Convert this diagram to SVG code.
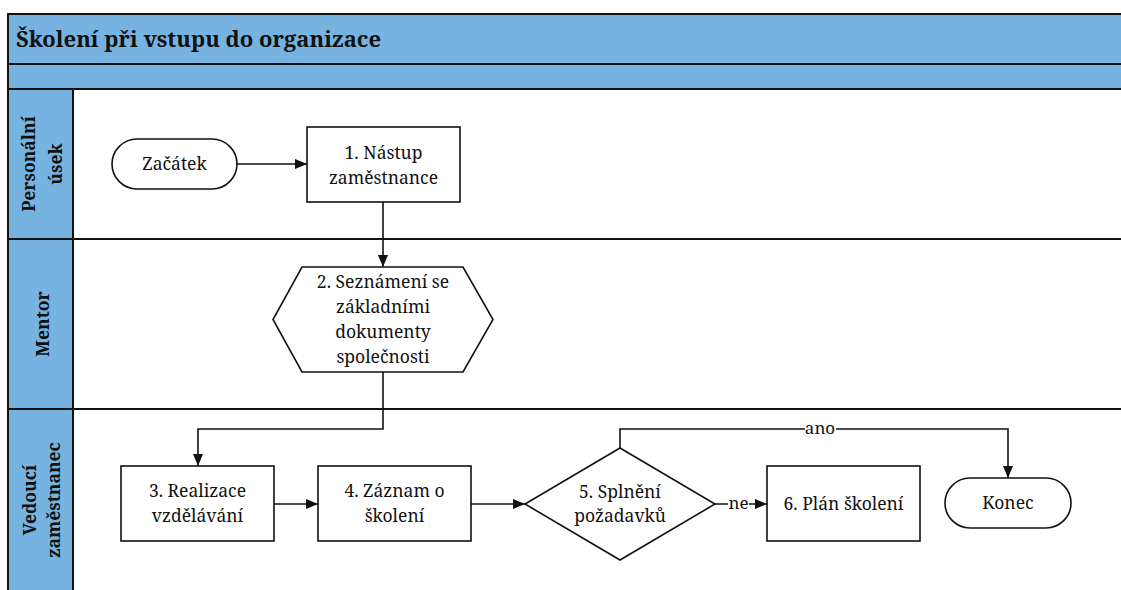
<svg xmlns="http://www.w3.org/2000/svg" width="1121" height="590" viewBox="0 0 1121 590">
<style>
.band{fill:#76B3E1;stroke:#111;stroke-width:2}
.lane{fill:#fff;stroke:#111;stroke-width:2}
.shape{fill:#fff;stroke:#111;stroke-width:1.6}
.conn{fill:none;stroke:#111;stroke-width:1.6}
text{font-family:"Noto Serif","Liberation Serif","DejaVu Serif",serif;fill:#111}
.t{font-size:17.5px;text-anchor:middle}
.lbl{font-size:17px;text-anchor:middle}
.lh{font-size:17.5px;font-weight:bold;text-anchor:middle}
.title{font-size:22px;font-weight:bold}
</style>
<defs>
<marker id="arr" markerWidth="12" markerHeight="10" refX="12" refY="5" orient="auto" markerUnits="userSpaceOnUse">
<path d="M0,0 L12,5 L0,10 Z" fill="#111"/>
</marker>
</defs>
<rect width="1121" height="590" fill="#fff"/>
<g id="pool">
<rect class="band" x="8" y="14" width="1120" height="50"/>
<text class="title" x="16" y="47">Školení při vstupu do organizace</text>
<rect class="band" x="8" y="64" width="1120" height="25"/>
</g>
<g id="lane-personalni">
<rect class="lane" x="73" y="89" width="1055" height="150"/>
<rect class="band" x="8" y="89" width="65" height="150"/>
<text class="lh" transform="translate(35,164) rotate(-90)">Personální</text>
<text class="lh" transform="translate(62,164) rotate(-90)">úsek</text>
</g>
<g id="lane-mentor">
<rect class="lane" x="73" y="239" width="1055" height="170"/>
<rect class="band" x="8" y="239" width="65" height="170"/>
<text class="lh" transform="translate(49,324) rotate(-90)">Mentor</text>
</g>
<g id="lane-vedouci">
<rect class="lane" x="73" y="409" width="1055" height="190"/>
<rect class="band" x="8" y="409" width="65" height="190"/>
<text class="lh" transform="translate(36,500) rotate(-90)">Vedoucí</text>
<text class="lh" transform="translate(60,500) rotate(-90)">zaměstnanec</text>
</g>
<g id="connectors">
<line class="conn" x1="237" y1="164" x2="307" y2="164" marker-end="url(#arr)"/>
<line class="conn" x1="383" y1="202" x2="383" y2="267" marker-end="url(#arr)"/>
<polyline class="conn" points="383,372 383,429 198,429 198,466" marker-end="url(#arr)"/>
<line class="conn" x1="274" y1="504" x2="318" y2="504" marker-end="url(#arr)"/>
<line class="conn" x1="471" y1="504" x2="525" y2="504" marker-end="url(#arr)"/>
<line class="conn" x1="715" y1="504" x2="767" y2="504" marker-end="url(#arr)"/>
<polyline class="conn" points="620,448 620,429 1008,429 1008,478" marker-end="url(#arr)"/>
<rect x="805" y="420" width="31" height="17" fill="#fff"/>
<text class="lbl" x="820" y="434">ano</text>
<rect x="728" y="496" width="21" height="16" fill="#fff"/>
<text class="lbl" x="738.5" y="509">ne</text>
</g>
<g id="start">
<rect class="shape" x="112" y="139" width="125" height="50" rx="25"/>
<text class="t" x="174.5" y="170">Začátek</text>
</g>
<g id="n1">
<rect class="shape" x="307" y="127" width="153" height="75"/>
<text class="t" x="383.5" y="159">1. Nástup</text>
<text class="t" x="383.5" y="184">zaměstnance</text>
</g>
<g id="n2">
<polygon class="shape" points="302,267 463,267 493,319.5 463,372 302,372 273,319.5"/>
<text class="t" x="383" y="288">2. Seznámení se</text>
<text class="t" x="383" y="313">základními</text>
<text class="t" x="383" y="338">dokumenty</text>
<text class="t" x="383" y="363">společnosti</text>
</g>
<g id="n3">
<rect class="shape" x="121" y="466" width="153" height="75"/>
<text class="t" x="197.5" y="497">3. Realizace</text>
<text class="t" x="197.5" y="522">vzdělávání</text>
</g>
<g id="n4">
<rect class="shape" x="318" y="466" width="153" height="75"/>
<text class="t" x="394.5" y="497">4. Záznam o</text>
<text class="t" x="394.5" y="522">školení</text>
</g>
<g id="n5">
<polygon class="shape" points="620,448 715,504 620,560 525,504"/>
<text class="t" x="620" y="498">5. Splnění</text>
<text class="t" x="620" y="522">požadavků</text>
</g>
<g id="n6">
<rect class="shape" x="767" y="466" width="153" height="75"/>
<text class="t" x="843.5" y="510">6. Plán školení</text>
</g>
<g id="end">
<rect class="shape" x="945" y="478" width="126" height="50" rx="25"/>
<text class="t" x="1008" y="509">Konec</text>
</g>
</svg>
